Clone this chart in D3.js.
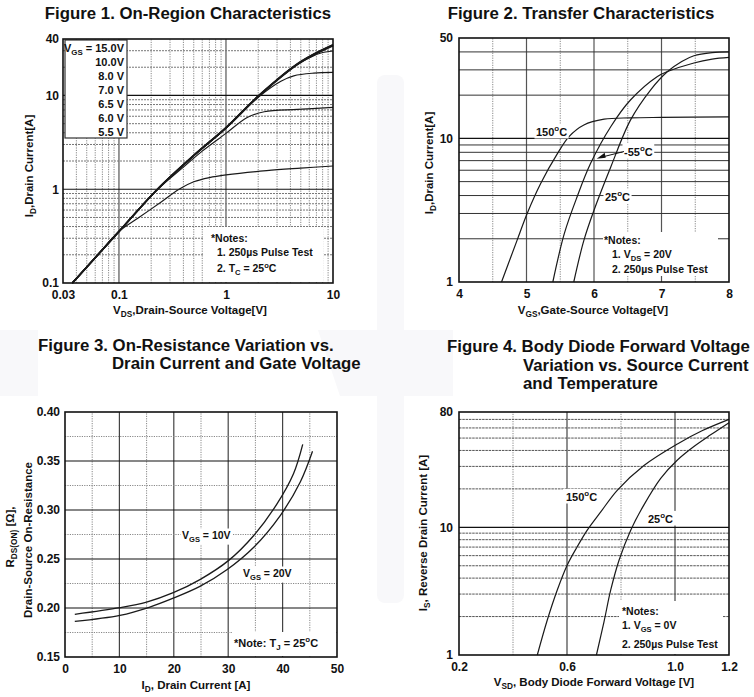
<!DOCTYPE html>
<html><head><meta charset="utf-8">
<script src="https://cdn.jsdelivr.net/npm/d3@7"></script>
<style>
body{margin:0;background:#fff}
text{font-family:"Liberation Sans",Arial,Helvetica,sans-serif;font-weight:bold;fill:#111}
</style>
</head><body>
<svg id="c" width="754" height="697"></svg>
<script>
// ---------------- DATA ----------------
// Figure 1: On-Region Characteristics (VDS [V], ID [A])
const fig1XTicks = [0.03, 0.1, 1, 10];
const fig1YTicks = [0.1, 1, 10, 40];
const fig1Legend = ["15.0V", "10.0V", "8.0 V", "7.0 V", "6.5 V", "6.0 V", "5.5 V"];
const fig1Vgs15 = [[0.0367,0.1],[0.06,0.186],[0.1,0.354],[0.229,1.0],[0.5,2.3],[1,4.55],[2.03,10],[5,23],[10,34.8]];
const fig1Vgs10 = [[0.0367,0.1],[0.06,0.186],[0.1,0.354],[0.229,1.0],[0.5,2.29],[1,4.52],[2.03,9.95],[5,22.8],[10,34.4]];
const fig1Vgs8  = [[0.0367,0.1],[0.06,0.186],[0.1,0.354],[0.229,1.0],[0.5,2.28],[1,4.5],[2.03,9.9],[5,22.6],[10,34.0]];
const fig1Vgs7  = [[0.0367,0.1],[0.06,0.186],[0.1,0.354],[0.229,1.0],[0.5,2.28],[1,4.5],[2.03,9.85],[4,19.3],[5.3,23.4],[7.6,28.2],[10,29.8]];
const fig1Vgs65 = [[0.0367,0.1],[0.06,0.186],[0.1,0.354],[0.229,1.0],[0.5,2.28],[1,4.48],[2.03,9.7],[3.26,14.2],[4.3,16.2],[6.6,17.3],[10,17.6]];
const fig1Vgs6  = [[0.0367,0.1],[0.06,0.186],[0.1,0.354],[0.229,0.99],[0.4,1.72],[0.6,2.55],[1,3.94],[1.58,5.83],[2.28,6.7],[4.65,7.1],[10,7.45]];
const fig1Vgs55 = [[0.0367,0.1],[0.06,0.186],[0.1,0.354],[0.15,0.49],[0.25,0.735],[0.364,1.0],[0.5,1.2],[0.7,1.33],[1,1.42],[2.4,1.58],[5,1.68],[10,1.77]];

// Figure 2: Transfer Characteristics (VGS [V], ID [A])
const fig2XTicks = [4, 5, 6, 7, 8];
const fig2YTicks = [1, 10, 50];
const fig2T150 = [[4.63,1],[4.86,1.95],[5.01,3.0],[5.21,4.85],[5.46,7.86],[5.63,10.3],[5.85,12.4],[6.15,13.6],[6.54,13.9],[7,14.0],[8,14.1]];
const fig2Tm55 = [[5.39,1],[5.56,2.17],[5.75,3.92],[5.95,6.7],[6.25,12.1],[6.54,18.5],[6.94,27],[7.09,29.2],[7.48,33.5],[7.75,35.6],[8,36.6]];
const fig2T25  = [[5.70,1],[5.85,1.95],[6.0,3.16],[6.25,6.35],[6.54,13.4],[6.84,21.8],[7.09,29.2],[7.3,34.3],[7.48,37.6],[7.75,39.5],[8,40]];

// Figure 3: On-Resistance vs Drain Current (ID [A], RDS(on) [ohm])
const fig3XTicks = [0, 10, 20, 30, 40, 50];
const fig3YTicks = [0.15, 0.20, 0.25, 0.30, 0.35, 0.40];
const fig3Id10 = [1.8, 10.1, 15.0, 19.9, 24.8, 30.1, 34.7, 39.0, 42.0, 43.7];
const fig3R10  = [0.1935, 0.2003, 0.206, 0.2156, 0.229, 0.2486, 0.274, 0.3065, 0.337, 0.367];
const fig3Id20 = [1.8, 10.1, 15.6, 19.9, 24.8, 29.75, 34.7, 39.6, 43.25, 45.5];
const fig3R20  = [0.1864, 0.1925, 0.201, 0.210, 0.222, 0.239, 0.262, 0.2946, 0.3286, 0.360];

// Figure 4: Body Diode Forward Voltage (VSD [V], IS [A])
const fig4XTicks = [0.2, 0.6, 1.0, 1.2];
const fig4YTicks = [1, 10, 80];
const fig4T150 = [[0.49,1],[0.527,1.88],[0.564,3.23],[0.601,5.07],[0.638,7.05],[0.675,9.5],[0.725,13.2],[0.786,19.5],[0.885,30.5],[1.009,45],[1.1,57],[1.2,70]];
const fig4T25  = [[0.709,1],[0.737,1.82],[0.762,3.23],[0.793,5.55],[0.836,9.5],[0.885,15],[0.947,24.2],[1.009,33.7],[1.07,43],[1.132,53],[1.2,66]];

// ---------------- HELPERS ----------------
const svg = d3.select('#c');
svg.append('rect').attr('width',754).attr('height',697).attr('fill','#fff');
// faint watermark shapes of the source page
const wm = svg.append('g').attr('fill','#f8f8fa');
wm.append('rect').attr('x',377).attr('y',75).attr('width',27).attr('height',528).attr('rx',8);
wm.append('rect').attr('x',377).attr('y',330).attr('width',76).attr('height',66);
wm.append('rect').attr('x',0).attr('y',330).attr('width',38).attr('height',66);
wm.append('path').attr('d','M318,330 L377,330 L377,396 L340,396 Z');

function rich(g, x, y, parts, o = {}) {
  const sz = o.size || 10.5;
  const t = g.append('text').attr('x', x).attr('y', y).attr('font-size', sz)
    .attr('text-anchor', o.anchor || 'start');
  if (o.rotate) t.attr('transform', `rotate(-90,${x},${y})`);
  let pending = 0;
  parts.forEach(p => {
    const s = t.append('tspan');
    let dy = pending; pending = 0;
    if (typeof p === 'string') { s.text(p); }
    else {
      s.text(p[0]).attr('font-size', sz * 0.72);
      const d = p[1] === 'sub' ? sz * 0.3 : -sz * 0.42;
      dy += d; pending = -d;
    }
    if (dy) s.attr('dy', dy);
  });
  return t;
}
function withBg(g, t, pad = 1.5) {
  const b = t.node().getBBox();
  g.insert('rect', () => t.node()).attr('x', b.x - pad).attr('y', b.y - 0.5)
    .attr('width', b.width + 2 * pad).attr('height', b.height + 1).attr('fill', '#fff');
}
function vlines(g, x, y, vals, stroke, dash, w = 1) {
  g.selectAll(null).data(vals).join('line')
    .attr('x1', d => x(d)).attr('x2', d => x(d))
    .attr('y1', y.range()[0]).attr('y2', y.range()[1])
    .attr('stroke', stroke).attr('stroke-width', w).attr('stroke-dasharray', dash);
}
function hlines(g, x, y, vals, stroke, dash, w = 1) {
  g.selectAll(null).data(vals).join('line')
    .attr('y1', d => y(d)).attr('y2', d => y(d))
    .attr('x1', x.range()[0]).attr('x2', x.range()[1])
    .attr('stroke', stroke).attr('stroke-width', w).attr('stroke-dasharray', dash);
}
function axes(g, x, y, xt, yt, xf, yf, xpad, ypad) {
  const y0 = y.range()[0], x0 = x.range()[0];
  const ax = g.append('g').attr('transform', `translate(0,${y0})`)
    .call(d3.axisBottom(x).tickValues(xt).tickFormat(xf).tickSize(0).tickPadding(xpad));
  const ay = g.append('g').attr('transform', `translate(${x0},0)`)
    .call(d3.axisLeft(y).tickValues(yt).tickFormat(yf).tickSize(0).tickPadding(ypad));
  [ax, ay].forEach(a => {
    a.select('.domain').remove();
    a.attr('font-family', null).attr('font-size', null);
    a.selectAll('text').attr('font-size', 12).attr('fill', '#111');
  });
}
function frame(g, x, y) {
  g.append('rect').attr('x', x.range()[0]).attr('y', y.range()[1])
    .attr('width', x.range()[1] - x.range()[0]).attr('height', y.range()[0] - y.range()[1])
    .attr('fill', 'none').attr('stroke', '#111').attr('stroke-width', 1.6);
}
function curve(g, x, y, pts, w = 1.2) {
  g.append('path').datum(pts)
    .attr('d', d3.line().x(d => x(d[0])).y(d => y(d[1])).curve(d3.curveCatmullRom.alpha(0.5)))
    .attr('fill', 'none').attr('stroke', '#1a1a1a').attr('stroke-width', w);
}
function decadeMinors(lo, hi) {
  const out = [];
  for (let e = Math.floor(Math.log10(lo)); e <= Math.ceil(Math.log10(hi)); e++)
    for (let k = 2; k <= 9; k++) { const v = k * Math.pow(10, e); if (v > lo * 1.0001 && v < hi * 0.9999) out.push(v); }
  return out;
}
function title(lines, x, y0, dy, anchor) {
  lines.forEach((l, i) => svg.append('text').attr('x', x[i]).attr('y', y0 + i * dy)
    .attr('font-size', 16.8).attr('text-anchor', anchor).text(l));
}

// ---------------- FIGURE 1 ----------------
{
  const g = svg.append('g');
  const x = d3.scaleLog().domain([0.03, 10]).range([63, 333]);
  const y = d3.scaleLog().domain([0.1, 40]).range([283, 39]);
  vlines(g, x, y, decadeMinors(0.03, 10), '#888', '1.2,1.2');
  vlines(g, x, y, [0.1, 1], '#555', null, 1.2);
  hlines(g, x, y, decadeMinors(0.1, 40), '#777', '2,1');
  hlines(g, x, y, [1, 10], '#111', null, 1.2);
  // legend box
  g.append('rect').attr('x', 65).attr('y', 40).attr('width', 62).attr('height', 98)
    .attr('fill', '#fff').attr('stroke', '#333').attr('stroke-width', 1.2);
  fig1Legend.forEach((l, i) => {
    if (i === 0) rich(g, 124, 52 + i * 14, ['V', ['GS', 'sub'], ' = ' + l], { size: 11, anchor: 'end' });
    else rich(g, 124, 52 + i * 14, [l], { size: 11, anchor: 'end' });
  });
  // notes
  g.append('rect').attr('x', 203).attr('y', 227).attr('width', 120).attr('height', 55).attr('fill', '#fff');
  rich(g, 211, 242, ['*Notes:'], { size: 10.5 });
  rich(g, 217, 256, ['1. 250µs Pulse Test'], { size: 10.5 });
  rich(g, 217, 272, ['2. T', ['C', 'sub'], ' = 25', ['o', 'sup'], 'C'], { size: 10.5 });
  const cg = g.append('g');
  [fig1Vgs55, fig1Vgs6, fig1Vgs65, fig1Vgs7].forEach(s => curve(cg, x, y, s, 1.2));
  [fig1Vgs8, fig1Vgs10, fig1Vgs15].forEach(s => curve(cg, x, y, s, 1.7));
  axes(g, x, y, fig1XTicks, fig1YTicks, d => String(d), d => String(d), 7, 4);
  frame(g, x, y);
  rich(g, 190, 314, ['V', ['DS', 'sub'], ',Drain-Source Voltage[V]'], { size: 11.5, anchor: 'middle' });
  rich(g, 33, 166, ['I', ['D', 'sub'], ',Drain Current[A]'], { size: 11.5, anchor: 'middle', rotate: true });
}
title(['Figure 1. On-Region Characteristics'], [188], 19, 0, 'middle');

// ---------------- FIGURE 2 ----------------
{
  const g = svg.append('g');
  const x = d3.scaleLinear().domain([4, 8]).range([459, 729]);
  const y = d3.scaleLog().domain([1, 50]).range([282, 38]);
  g.append('rect').attr('x',459).attr('y',38).attr('width',270).attr('height',244).attr('fill','#fff');
  vlines(g, x, y, [4.5, 5.5, 6.5, 7.5], '#888', '1.2,1.2');
  vlines(g, x, y, [5, 6, 7], '#555', null, 1.2);
  hlines(g, x, y, decadeMinors(1, 50), '#333', null, 1);
  hlines(g, x, y, [10], '#111', null, 1.2);
  g.append('rect').attr('x', 603).attr('y', 232).attr('width', 115).attr('height', 44).attr('fill', '#fff');
  rich(g, 604, 244, ['*Notes:'], { size: 10.5 });
  rich(g, 612, 258, ['1. V', ['DS', 'sub'], ' = 20V'], { size: 10.5 });
  rich(g, 612, 273, ['2. 250µs Pulse Test'], { size: 10.5 });
  const cg = g.append('g');
  [fig2T150, fig2Tm55, fig2T25].forEach(s => curve(cg, x, y, s, 1.2));
  const lg = g.append('g');
  withBg(lg, rich(lg, 536, 136, ['150', ['o', 'sup'], 'C'], { size: 11 }));
  withBg(lg, rich(lg, 624, 156, ['-55', ['o', 'sup'], 'C'], { size: 11 }));
  withBg(lg, rich(lg, 605, 201, ['25', ['o', 'sup'], 'C'], { size: 11 }));
  // arrow from -55 label to its curve
  const tip = [x(6.04), y(7.2)];
  lg.append('line').attr('x1', 624).attr('y1', 151.5).attr('x2', tip[0] + 6).attr('y2', tip[1] - 2)
    .attr('stroke', '#111').attr('stroke-width', 1);
  lg.append('path').attr('d', `M${tip[0]},${tip[1]} l8,-6 l1,5 z`).attr('fill', '#111');
  axes(g, x, y, fig2XTicks, fig2YTicks, d => String(d), d => String(d), 7, 6);
  frame(g, x, y);
  rich(g, 593, 314, ['V', ['GS', 'sub'], ',Gate-Source Voltage[V]'], { size: 11.5, anchor: 'middle' });
  rich(g, 433, 163, ['I', ['D', 'sub'], ',Drain Current[A]'], { size: 11.5, anchor: 'middle', rotate: true });
}
title(['Figure 2. Transfer Characteristics'], [581], 19, 0, 'middle');

// ---------------- FIGURE 3 ----------------
{
  const g = svg.append('g');
  const x = d3.scaleLinear().domain([0, 50]).range([65, 337]);
  const y = d3.scaleLinear().domain([0.15, 0.40]).range([657, 412]);
  vlines(g, x, y, [5, 15, 25, 35, 45], '#888', '1.2,1.2');
  vlines(g, x, y, [10, 20, 30, 40], '#444', null, 1.2);
  hlines(g, x, y, [0.175, 0.225, 0.275, 0.325, 0.375], '#888', '1.2,1.2');
  hlines(g, x, y, [0.20, 0.25, 0.30, 0.35], '#111', null, 1.2);
  const cg = g.append('g');
  curve(cg, x, y, fig3Id10.map((d, i) => [d, fig3R10[i]]), 1.3);
  curve(cg, x, y, fig3Id20.map((d, i) => [d, fig3R20[i]]), 1.3);
  const lg = g.append('g');
  withBg(lg, rich(lg, 182, 539, ['V', ['GS', 'sub'], ' = 10V'], { size: 10.5 }));
  withBg(lg, rich(lg, 243, 577, ['V', ['GS', 'sub'], ' = 20V'], { size: 10.5 }));
  g.append('rect').attr('x', 232).attr('y', 632).attr('width', 103).attr('height', 24).attr('fill', '#fff');
  rich(g, 234, 647, ['*Note: T', ['J', 'sub'], ' = 25', ['o', 'sup'], 'C'], { size: 11 });
  axes(g, x, y, fig3XTicks, fig3YTicks, d => String(d), d3.format('.2f'), 7, 5);
  frame(g, x, y);
  rich(g, 196, 689, ['I', ['D', 'sub'], ', Drain Current [A]'], { size: 11.5, anchor: 'middle' });
  rich(g, 14, 537, ['R', ['DS(ON)', 'sub'], ' [Ω],'], { size: 11.5, anchor: 'middle', rotate: true });
  rich(g, 32, 540, ['Drain-Source On-Resistance'], { size: 11.5, anchor: 'middle', rotate: true });
}
title(['Figure 3. On-Resistance Variation vs.', 'Drain Current and Gate Voltage'], [38, 112], 351, 18, 'start');

// ---------------- FIGURE 4 ----------------
{
  const g = svg.append('g');
  const x = d3.scaleLinear().domain([0.2, 1.2]).range([459, 729]);
  const y = d3.scaleLog().domain([1, 80]).range([655, 412]);
  vlines(g, x, y, [0.4, 0.8], '#888', '1.2,1.2');
  vlines(g, x, y, [0.6, 1.0], '#444', null, 1.2);
  hlines(g, x, y, decadeMinors(1, 80), '#555', '2.5,0.8');
  hlines(g, x, y, [10], '#111', null, 1.2);
  g.append('rect').attr('x', 619).attr('y', 601).attr('width', 104).attr('height', 53).attr('fill', '#fff');
  rich(g, 622, 615, ['*Notes:'], { size: 10.5 });
  rich(g, 622, 629, ['1. V', ['GS', 'sub'], ' = 0V'], { size: 10.5 });
  rich(g, 622, 648, ['2. 250µs Pulse Test'], { size: 10.5 });
  const cg = g.append('g');
  [fig4T150, fig4T25].forEach(s => curve(cg, x, y, s, 1.2));
  const lg = g.append('g');
  withBg(lg, rich(lg, 566, 501, ['150', ['o', 'sup'], 'C'], { size: 11 }), 3);
  withBg(lg, rich(lg, 648, 523, ['25', ['o', 'sup'], 'C'], { size: 11 }), 4);
  axes(g, x, y, fig4XTicks, fig4YTicks, d3.format('.1f'), d => String(d), 7, 6);
  frame(g, x, y);
  rich(g, 594, 686, ['V', ['SD', 'sub'], ', Body Diode Forward Voltage [V]'], { size: 11.5, anchor: 'middle' });
  rich(g, 427, 533, ['I', ['S', 'sub'], ', Reverse Drain Current [A]'], { size: 11.5, anchor: 'middle', rotate: true });
}
title(['Figure 4. Body Diode Forward Voltage', 'Variation vs. Source Current', 'and Temperature'], [447, 523, 523], 352, 18.5, 'start');
</script>
</body></html>
